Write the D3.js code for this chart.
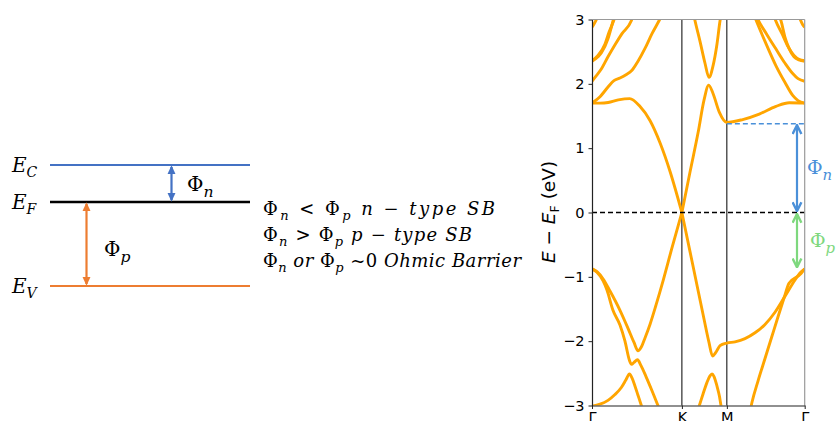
<!DOCTYPE html>
<html>
<head>
<script src="https://d3js.org/d3.v7.min.js"></script>
<style>
  body { margin: 0; background: #ffffff; }
  svg { display: block; }
</style>
</head>
<body>
<div id="chart"></div>
<script>
// high symmetry points along the path (hexagonal BZ, units of 2pi/a)
var kTicks = [0, 1.3333, 2.0, 3.1547];
var kLabels = ["Γ", "K", "M", "Γ"];
var yTicks = [-3, -2, -1, 0, 1, 2, 3];

// band energies, [k, E - Ef]
var cbGK = [[0,1.70],[0.12,1.70],[0.24,1.71],[0.39,1.75],[0.56,1.77],[0.71,1.65],[0.86,1.43],[1.01,1.08],[1.16,0.63],[1.333,0.0]];
var cbKMG = [[1.333,0.0],[1.456,0.64],[1.575,1.25],[1.662,1.75],[1.731,1.98],[1.795,1.85],[1.888,1.56],[2.0,1.40],[2.235,1.445],[2.481,1.53],[2.729,1.65],[2.926,1.705],[3.155,1.70]];
var cbKM2 = [[1.483,3.2],[1.528,2.98],[1.602,2.66],[1.676,2.32],[1.735,2.10],[1.795,2.28],[1.854,2.62],[1.899,2.98],[1.943,3.2]];
var cbC = [[0,1.70],[0.119,1.80],[0.237,1.95],[0.326,2.05],[0.415,2.09],[0.504,2.14],[0.593,2.21],[0.682,2.35],[0.786,2.55],[0.890,2.78],[0.994,2.98],[1.053,3.1]];
var cbC2 = [[2.373,3.15],[2.418,3.03],[2.566,2.66],[2.729,2.28],[2.863,2.02],[2.977,1.82],[3.056,1.74],[3.155,1.70]];
var cbD = [[0,2.04],[0.059,2.12],[0.138,2.23],[0.237,2.42],[0.337,2.60],[0.445,2.78],[0.583,2.98],[0.623,3.1]];
var cbD2 = [[2.403,3.15],[2.448,3.03],[2.586,2.78],[2.729,2.54],[2.863,2.32],[2.977,2.16],[3.056,2.08],[3.155,2.04]];
var cbE = [[0,2.35],[0.089,2.42],[0.138,2.48],[0.237,2.70],[0.312,2.98],[0.341,3.1]];
var cbF = [[0,2.36],[0.089,2.44],[0.193,2.62],[0.252,2.80],[0.334,3.02],[0.356,3.1]];
var cbE2 = [[2.685,3.1],[2.725,2.98],[2.818,2.78],[2.907,2.58],[2.996,2.44],[3.070,2.38],[3.155,2.36]];
var cbF2 = [[2.759,3.1],[2.803,2.98],[2.863,2.72],[2.922,2.55],[2.996,2.42],[3.070,2.37],[3.155,2.35]];
var cbG = [[0,2.88],[0.030,2.93],[0.074,3.02],[0.104,3.1]];
var cbG2 = [[3.051,3.1],[3.081,3.02],[3.125,2.92],[3.155,2.88]];

var vbGK = [[0,-0.875],[0.074,-0.92],[0.163,-1.03],[0.267,-1.22],[0.415,-1.52],[0.534,-1.80],[0.623,-2.02],[0.682,-2.15],[0.727,-2.10],[0.786,-1.95],[0.860,-1.74],[0.949,-1.44],[1.057,-1.05],[1.186,-0.55],[1.333,0.0]];
var vbKMG = [[1.333,0.0],[1.456,-0.62],[1.575,-1.22],[1.662,-1.66],[1.735,-2.02],[1.787,-2.23],[1.839,-2.17],[1.899,-2.07],[2.0,-2.03],[2.121,-2.01],[2.269,-1.96],[2.418,-1.87],[2.566,-1.74],[2.714,-1.55],[2.863,-1.30],[3.011,-1.05],[3.085,-0.94],[3.155,-0.875]];
var vbB = [[0,-0.875],[0.074,-0.93],[0.163,-1.06],[0.223,-1.21],[0.311,-1.52],[0.415,-1.75],[0.489,-2.0],[0.556,-2.30],[0.586,-2.36],[0.623,-2.33],[0.675,-2.29],[0.727,-2.38],[0.801,-2.55],[0.890,-2.77],[0.979,-3.0],[1.023,-3.1]];
var vbC = [[0,-3.01],[0.119,-2.98],[0.237,-2.92],[0.341,-2.83],[0.435,-2.72],[0.504,-2.60],[0.556,-2.51],[0.593,-2.57],[0.638,-2.70],[0.682,-2.84],[0.732,-3.0],[0.756,-3.08]];
var vbD = [[1.558,-3.1],[1.592,-3.0],[1.647,-2.82],[1.706,-2.64],[1.750,-2.54],[1.780,-2.51],[1.810,-2.55],[1.854,-2.70],[1.891,-2.86],[1.913,-3.0],[1.935,-3.1]];
var vbE = [[2.343,-3.1],[2.373,-2.95],[2.462,-2.62],[2.566,-2.27],[2.670,-1.92],[2.759,-1.62],[2.848,-1.33],[2.922,-1.10],[3.100,-0.95],[3.155,-0.875]];

var bands = [cbGK, cbKMG, cbKM2, cbC, cbC2, cbD, cbD2, cbE, cbF, cbE2, cbF2, cbG, cbG2,
             vbGK, vbKMG, vbB, vbC, vbD, vbE];

var cbm = 1.38, vbm = -0.875;   // band edges used for the barrier arrows

var width = 838, height = 421;
var svg = d3.select("#chart").append("svg")
    .attr("width", width)
    .attr("height", height)
    .style("background", "#fff");

var defs = svg.append("defs");

function marker(id, color, open, size) {
  var m = defs.append("marker")
      .attr("id", id)
      .attr("viewBox", "0 0 10 10")
      .attr("refX", open ? 9 : 8).attr("refY", 5)
      .attr("markerUnits", "userSpaceOnUse")
      .attr("markerWidth", size).attr("markerHeight", size)
      .attr("orient", "auto-start-reverse");
  if (open) {
    m.append("path").attr("d", "M1,1 L9,5 L1,9")
      .attr("fill", "none").attr("stroke", color).attr("stroke-width", 2.2);
  } else {
    m.append("path").attr("d", "M0,0.5 L10,5 L0,9.5 Z").attr("fill", color);
  }
}
marker("hb", "#4472C4", false, 9);
marker("ho", "#ED7D31", false, 9);
marker("rb", "#4A90D9", true, 11);
marker("rg", "#7ED87E", true, 11);

// ---------------- left schematic ----------------
var serif = "'DejaVu Serif', 'Liberation Serif', serif";
var left = svg.append("g");
var levels = [
  {name: "C", y: 165, color: "#4472C4", w: 2},
  {name: "F", y: 202, color: "#000", w: 2.6},
  {name: "V", y: 286, color: "#ED7D31", w: 2}
];
levels.forEach(function(l) {
  left.append("line")
    .attr("x1", 50).attr("x2", 250)
    .attr("y1", l.y).attr("y2", l.y)
    .attr("stroke", l.color).attr("stroke-width", l.w);
  var t = left.append("text")
    .attr("x", 12).attr("y", l.y + 7)
    .style("font-family", serif).style("font-size", "20px").style("font-style", "italic");
  t.append("tspan").text("E");
  t.append("tspan").attr("dy", 5).style("font-size", "14px").text(l.name);
});

left.append("line")
  .attr("x1", 171.5).attr("x2", 171.5).attr("y1", 167).attr("y2", 200)
  .attr("stroke", "#4472C4").attr("stroke-width", 2.2)
  .attr("marker-start", "url(#hb)").attr("marker-end", "url(#hb)");
left.append("line")
  .attr("x1", 86.5).attr("x2", 86.5).attr("y1", 204).attr("y2", 284)
  .attr("stroke", "#ED7D31").attr("stroke-width", 2.2)
  .attr("marker-start", "url(#ho)").attr("marker-end", "url(#ho)");

function phi(sel, x, y, sub, size, color) {
  var t = sel.append("text").attr("x", x).attr("y", y)
    .style("font-family", serif).style("font-size", size + "px")
    .attr("fill", color || "#000");
  t.append("tspan").text("Φ");
  t.append("tspan").attr("dy", size * 0.3).style("font-style", "italic")
    .style("font-size", (size * 0.78) + "px").text(sub);
  return t;
}
phi(left, 187, 191, "n", 20);
phi(left, 104, 256, "p", 20);

// condition text
var lines = [
  [["Φ",""],["n","sub"],[" < Φ",""],["p","sub"],[" n ","it"],["−",""],[" type SB","it"]],
  [["Φ",""],["n","sub"],[" > Φ",""],["p","sub"],[" p ","it"],["−",""],[" type SB","it"]],
  [["Φ",""],["n","sub"],[" or ","it"],["Φ",""],["p","sub"],[" ~0 ",""],["Ohmic Barrier","it"]]
];
var lineLen = [232, 209, 258];
lines.forEach(function(parts, i) {
  var t = svg.append("text").attr("x", 263).attr("y", 215 + i * 26)
    .style("font-family", serif).style("font-size", "18px")
    .attr("textLength", lineLen[i]).attr("lengthAdjust", "spacing");
  var down = false;
  parts.forEach(function(p) {
    var s = t.append("tspan").text(p[0]);
    if (p[1] === "sub") {
      s.attr("dy", 5).style("font-style", "italic").style("font-size", "13px");
      down = true;
    } else {
      if (down) { s.attr("dy", -5); down = false; }
      if (p[1] === "it") s.style("font-style", "italic");
    }
  });
});

// ---------------- band structure ----------------
var x = d3.scaleLinear().domain([0, kTicks[3]]).range([592, 804.7]);
var y = d3.scaleLinear().domain([-3, 3]).range([405.5, 19.5]);

defs.append("clipPath").attr("id", "plotclip")
  .append("rect").attr("x", 592).attr("y", 19.5).attr("width", 212.7).attr("height", 386);

var plot = svg.append("g");

plot.selectAll(".kline").data(kTicks.slice(1, 3)).enter().append("line")
  .attr("x1", function(d) { return x(d); }).attr("x2", function(d) { return x(d); })
  .attr("y1", y(3)).attr("y2", y(-3))
  .attr("stroke", "#000").attr("stroke-width", 1);

var line = d3.line()
  .x(function(d) { return x(d[0]); })
  .y(function(d) { return y(d[1]); })
  .curve(d3.curveMonotoneX);

plot.append("g").attr("clip-path", "url(#plotclip)")
  .selectAll("path").data(bands).enter().append("path")
  .attr("d", line)
  .attr("fill", "none")
  .attr("stroke", "#FFA500")
  .attr("stroke-width", 2.9)
  .attr("stroke-linejoin", "round");

// Fermi level
plot.append("line")
  .attr("x1", x(0)).attr("x2", x(kTicks[3]))
  .attr("y1", y(0)).attr("y2", y(0))
  .attr("stroke", "#000").attr("stroke-width", 1.3)
  .attr("stroke-dasharray", "5,3");

// CBM dashed line
plot.append("line")
  .attr("x1", x(kTicks[2])).attr("x2", x(kTicks[3]))
  .attr("y1", y(cbm)).attr("y2", y(cbm))
  .attr("stroke", "#4A90D9").attr("stroke-width", 1.4)
  .attr("stroke-dasharray", "5,3");

// spines
plot.append("line").attr("x1", x(0)).attr("x2", x(kTicks[3])).attr("y1", y(3)).attr("y2", y(3))
  .attr("stroke", "#999").attr("stroke-width", 1.2);
plot.append("line").attr("x1", x(kTicks[3])).attr("x2", x(kTicks[3])).attr("y1", y(3)).attr("y2", y(-3))
  .attr("stroke", "#999").attr("stroke-width", 1.2);

var yAxis = plot.append("g")
  .attr("transform", "translate(" + x(0) + ",0)")
  .call(d3.axisLeft(y).tickValues(yTicks).tickSize(3.5).tickSizeOuter(0).tickPadding(4)
    .tickFormat(d3.format("d")));
var xAxis = plot.append("g")
  .attr("transform", "translate(0," + y(-3) + ")")
  .call(d3.axisBottom(x).tickValues(kTicks).tickSize(3.5).tickSizeOuter(0).tickPadding(3)
    .tickFormat(function(d, i) { return kLabels[i]; }));
[yAxis, xAxis].forEach(function(a) {
  a.selectAll("text").style("font-family", "'DejaVu Sans', sans-serif").style("font-size", "14.5px").attr("fill", "#000");
  a.select(".domain").attr("stroke", "#222").attr("stroke-width", 1.2);
  a.selectAll(".tick line").attr("stroke", "#222");
});

// y label
var yl = svg.append("text")
  .attr("transform", "translate(555,212) rotate(-90)")
  .attr("text-anchor", "middle")
  .style("font-family", "'DejaVu Sans', sans-serif").style("font-size", "18.5px");
yl.append("tspan").style("font-style", "italic").text("E");
yl.append("tspan").text(" − ");
yl.append("tspan").style("font-style", "italic").text("E");
yl.append("tspan").attr("dy", 4).style("font-size", "12.5px").text("F");
yl.append("tspan").attr("dy", -4).text(" (eV)");

// barrier arrows
plot.append("line")
  .attr("x1", 797).attr("x2", 797).attr("y1", y(cbm) + 1.5).attr("y2", y(0) - 1.5)
  .attr("stroke", "#4A90D9").attr("stroke-width", 2.2)
  .attr("marker-start", "url(#rb)").attr("marker-end", "url(#rb)");
plot.append("line")
  .attr("x1", 797).attr("x2", 797).attr("y1", y(0) + 1.5).attr("y2", y(vbm) - 1.5)
  .attr("stroke", "#7ED87E").attr("stroke-width", 2.2)
  .attr("marker-start", "url(#rg)").attr("marker-end", "url(#rg)");
phi(svg, 807, 174, "n", 19, "#4A90D9");
phi(svg, 810, 247, "p", 19, "#7ED87E");
</script>
</body>
</html>
